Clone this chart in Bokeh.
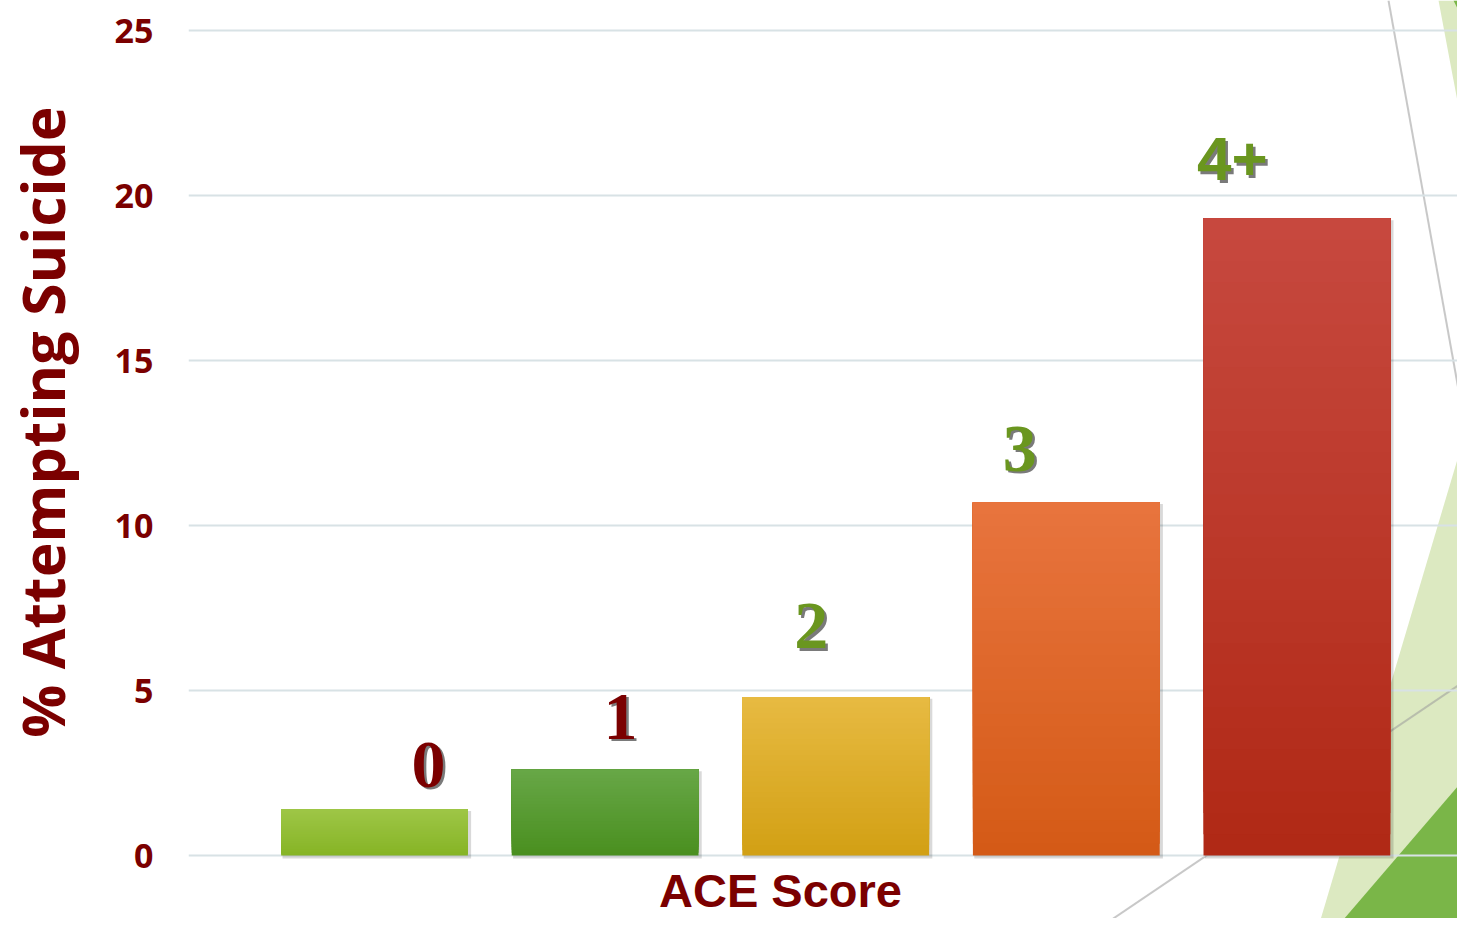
from bokeh.plotting import figure
from bokeh.models import Range1d, FixedTicker, Label
from bokeh.layouts import row
from bokeh.core.properties import value
from bokeh.embed import file_html
from bokeh.resources import INLINE
import math

# ---------------- data ----------------
categories = ["0", "1", "2", "3", "4+"]
pct_attempting = [1.4, 2.6, 4.8, 10.7, 19.3]
y_ticks = [0, 5, 10, 15, 20, 25]
y_tick_labels = ["0", "5", "10", "15", "20", "25"]
x_title = "ACE Score"
y_title = "% Attempting Suicide"

# ---------------- style ----------------
bar_top_colors = ["#9ec647", "#67a747", "#e7ba42", "#e8743e", "#c7493f"]
bar_bottom_colors = ["#86b425", "#4a8f1f", "#d2a014", "#d45a16", "#b02815"]
label_colors = ["#7b0000", "#7b0000", "#6a961f", "#6a961f", "#6a961f"]
label_fonts = ["Liberation Serif"] * 4 + ["Liberation Sans"]
label_sizes = ["68px"] * 4 + ["62px"]
label_dx = [0.234, 0.067, -0.106, -0.202, -0.28]
label_dy = [1.35, 1.6, 2.15, 1.62, 1.80]
DARK_RED = "#7b0000"
GRID = "#d8e2e5"
BAR_W = 0.81
FIG_W, FIG_H = 1457, 918
TITLE_W = 100
FRAME_LEFT = 188

# pixel geometry of the page (used for ranges and slide decorations)
XS, X0PX, YS, Y0PX = 230.6, 374.0, 33.0, 855.0
def to_data(px, py):
    return ((px - X0PX) / XS, (Y0PX - py) / YS)

x0, y_hi = to_data(FRAME_LEFT, 0)
x1, y_lo = to_data(FIG_W, FIG_H)

# ---------- narrow figure holding the rotated y title ----------
t = figure(width=TITLE_W, height=FIG_H, output_backend="svg", toolbar_location=None,
           x_range=Range1d(0, TITLE_W), y_range=Range1d(0, FIG_H),
           min_border_left=0, min_border_right=0, min_border_top=0, min_border_bottom=0)
t.axis.visible = False
t.grid.visible = False
t.outline_line_color = None
t.text(x=[41], y=[FIG_H - 421.5], text=[y_title], angle=math.pi / 2, text_align="center",
       text_baseline="middle", text_font=value("Open Sans"), text_font_style="bold",
       text_font_size="59px", text_color=DARK_RED)

# ---------- main chart ----------
p = figure(width=FIG_W - TITLE_W, height=FIG_H, output_backend="svg", toolbar_location=None,
           x_range=Range1d(x0, x1), y_range=Range1d(y_lo, y_hi),
           min_border_left=FRAME_LEFT - TITLE_W, min_border_right=0, min_border_top=0,
           min_border_bottom=0)
p.outline_line_color = None
p.background_fill_color = "white"
p.border_fill_color = "white"
p.xgrid.visible = False
p.ygrid.visible = False
p.xaxis.visible = False

ax = p.yaxis[0]
ax.ticker = FixedTicker(ticks=y_ticks)
ax.major_label_overrides = {t_: l for t_, l in zip(y_ticks, y_tick_labels)}
ax.axis_line_color = None
ax.major_tick_line_color = None
ax.minor_tick_line_color = None
ax.major_tick_out = 0
ax.major_tick_in = 0
ax.major_label_standoff = 35
ax.major_label_text_font = "Open Sans"
ax.major_label_text_font_style = "bold"
ax.major_label_text_font_size = "34px"
ax.major_label_text_color = DARK_RED

# ---------- slide decorations (right side) ----------
def poly(pts, color, alpha=1.0):
    xs, ys = zip(*[to_data(a, b) for a, b in pts])
    p.patch(list(xs), list(ys), fill_color=color, fill_alpha=alpha, line_color=None)

poly([(1438, 0), (1470, 0), (1470, 170)], "#dce9c1")
poly([(1453, 0), (1470, 0), (1470, 34)], "#7ab648")
poly([(1318, 926), (1470, 415), (1470, 926)], "#dce9c1")
poly([(1337, 926), (1470, 771), (1470, 926)], "#7ab648")
for (a, b), (c, d) in [((1388, 0), (1465, 428)), ((1101, 926), (1465, 680))]:
    (xa, ya), (xb, yb) = to_data(a, b), to_data(c, d)
    p.line([xa, xb], [ya, yb], line_color="#9a9a9a", line_alpha=0.55, line_width=2)

# ---------- grid lines ----------
p.segment(x0=[x0] * len(y_ticks), x1=[x1] * len(y_ticks), y0=y_ticks, y1=y_ticks,
          line_color=GRID, line_width=2)

# ---------- bars with vertical gradient ----------
def hex2rgb(h):
    return tuple(int(h[i:i + 2], 16) for i in (1, 3, 5))
def mix(c1, c2, f):
    a, b = hex2rgb(c1), hex2rgb(c2)
    return "#%02x%02x%02x" % tuple(round(a[i] + (b[i] - a[i]) * f) for i in range(3))

xpos = list(range(len(categories)))
p.quad(left=[x - BAR_W / 2 + 0.006 for x in xpos], right=[x + BAR_W / 2 + 0.014 for x in xpos],
       bottom=[-0.09] * len(xpos), top=[v - 0.05 for v in pct_attempting],
       fill_color="black", fill_alpha=0.15, line_color=None)

N = 30
L, R, B, T, C = [], [], [], [], []
for x, v, ct, cb in zip(xpos, pct_attempting, bar_top_colors, bar_bottom_colors):
    for k in range(N):
        L.append(x - BAR_W / 2)
        R.append(x + BAR_W / 2)
        B.append(v * k / N)
        T.append(v)
        C.append(mix(cb, ct, (k + 0.5) / N))
p.quad(left=L, right=R, bottom=B, top=T, fill_color=C, line_color=None)

# ---------- category labels above bars ----------
for x, v, cat, col, fnt, sz, dx, dy in zip(xpos, pct_attempting, categories, label_colors,
                                         label_fonts, label_sizes, label_dx, label_dy):
    for off, c, a in [((2.5, 2.5), "#222222", 0.6), ((0, 0), col, 1.0)]:
        p.text(x=[x + dx], y=[v + dy], text=[cat], text_align="center",
               text_baseline="alphabetic", text_font=value(fnt), text_font_style="bold",
               text_font_size=sz, text_color=c, text_alpha=a,
               x_offset=off[0], y_offset=off[1])

# ---------- x title ----------
xt, yt = to_data(780, 890)
p.add_layout(Label(x=xt, y=yt, text=x_title, text_align="center", text_baseline="alphabetic",
                   text_font="Liberation Sans", text_font_style="bold",
                   text_font_size="47px", text_color=DARK_RED))

layout = row(t, p, spacing=0)
open("out.html", "w").write(file_html(layout, INLINE))
